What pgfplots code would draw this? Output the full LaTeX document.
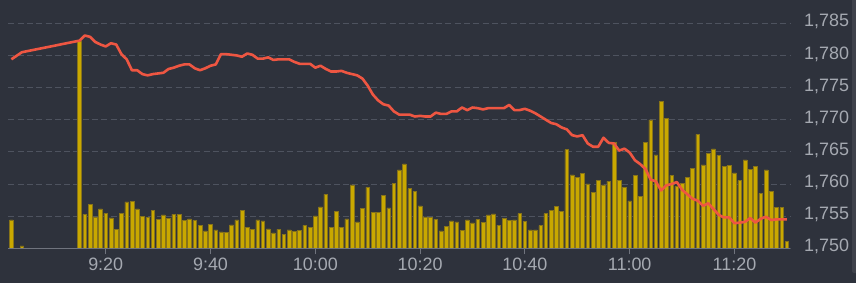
\documentclass[border=0pt]{standalone}
\usepackage{fontspec}
\setmainfont{Liberation Sans}
\usepackage{pgfplots}
\usepackage{pgfplotstable}
\pgfplotsset{compat=1.18}
\definecolor{bg}{RGB}{46,50,60}
\definecolor{gridc}{RGB}{78,83,95}
\definecolor{axisgray}{RGB}{112,116,126}
\definecolor{lbl}{RGB}{165,169,177}
\definecolor{barfill}{RGB}{201,168,0}
\definecolor{baredge}{RGB}{135,115,25}
\definecolor{pricec}{RGB}{238,86,66}

\pgfplotstableread{
t vol
2 85
4 7
15 620
16 102
17 131
18 94
19 118
20 105
21 91
22 57
23 105
24 139
25 140
26 118
27 95
28 93
29 114
30 87
31 100
32 90
33 102
34 102
35 84
36 88
37 83
38 69
39 52
40 72
41 55
42 49
43 48
44 70
45 85
46 114
47 63
48 57
49 85
50 82
51 58
52 46
53 57
54 42
55 55
56 50
57 54
58 69
59 63
60 97
61 124
62 162
63 63
64 111
65 63
66 88
67 190
68 79
69 119
70 183
71 108
72 108
73 159
74 121
75 195
76 235
77 253
78 179
79 170
80 127
81 94
82 92
83 87
84 52
85 65
86 82
87 79
88 54
89 85
90 76
91 86
92 77
93 100
94 103
95 69
96 89
97 83
98 85
99 104
100 80
101 55
102 55
103 68
104 104
105 113
106 125
107 110
108 296
109 220
110 212
111 225
112 193
113 167
114 204
115 190
116 201
117 318
118 204
119 182
120 142
121 219
122 155
123 318
124 385
125 280
126 440
127 390
128 219
129 186
130 195
131 213
132 240
133 342
134 250
135 284
136 298
137 279
138 245
139 248
140 226
141 203
142 265
143 237
144 246
145 165
146 235
147 170
148 122
149 122
150 20
}\voltable

\pgfplotstableread{
t price
2 1779.4
4 1780.5
15 1782.3
16 1783.1
17 1782.9
18 1782.1
19 1781.7
20 1781.4
21 1781.9
22 1781.7
23 1780.2
24 1779.4
25 1777.7
26 1777.7
27 1777.1
28 1776.9
29 1777.1
30 1777.2
31 1777.3
32 1777.9
33 1778.1
34 1778.4
35 1778.6
36 1778.6
37 1778.0
38 1777.7
39 1778.0
40 1778.4
41 1778.6
42 1780.2
43 1780.2
44 1780.1
45 1780.0
46 1779.8
47 1780.3
48 1780.1
49 1779.5
50 1779.5
51 1779.7
52 1779.3
53 1779.4
54 1779.4
55 1779.4
56 1779.0
57 1778.7
58 1778.7
59 1778.7
60 1778.1
61 1778.4
62 1777.9
63 1777.5
64 1777.5
65 1777.6
66 1777.3
67 1777.1
68 1776.9
69 1776.4
70 1775.3
71 1773.9
72 1773.0
73 1772.4
74 1772.2
75 1771.3
76 1770.8
77 1770.8
78 1770.8
79 1770.5
80 1770.6
81 1770.5
82 1770.5
83 1771.1
84 1770.9
85 1770.9
86 1771.3
87 1771.3
88 1771.9
89 1771.5
90 1771.9
91 1771.8
92 1771.6
93 1771.8
94 1771.8
95 1771.8
96 1771.8
97 1772.3
98 1771.5
99 1771.5
100 1771.7
101 1771.4
102 1771.0
103 1770.5
104 1770.0
105 1769.5
106 1769.3
107 1768.8
108 1768.5
109 1767.6
110 1767.4
111 1767.6
112 1766.3
113 1765.8
114 1765.8
115 1767.2
116 1766.4
117 1766.3
118 1765.2
119 1765.5
120 1764.9
121 1763.7
122 1763.1
123 1762.35
124 1760.7
125 1760.4
126 1759.0
127 1759.8
128 1760.0
129 1760.3
130 1759.1
131 1758.4
132 1757.7
133 1757.4
134 1756.6
135 1757.0
136 1756.1
137 1755.2
138 1754.8
139 1754.8
140 1753.9
141 1754.0
142 1754.1
143 1754.7
144 1754.0
145 1754.6
146 1754.9
147 1754.4
148 1754.5
149 1754.5
150 1754.5
}\pricetable

\pgfplotsset{
  base/.style={
    scale only axis,
    width=781.7bp, height=225bp,
    at={(8.3bp,34.7bp)}, anchor=south west,
    xmin=1.41, xmax=150.6,
    clip=false,
  },
}

\begin{document}
\begin{tikzpicture}[x=1bp,y=1bp]
\useasboundingbox (0,0) rectangle (856,283);
\fill[bg] (0,0) rectangle (856,283);
\fill[bg!92!white, rounded corners=2bp] (852,10) rectangle (858,290);

% grid + right labels
\begin{axis}[base,
  ymin=1750, ymax=1785,
  ytick={1750,1755,...,1785},
  yticklabel pos=right,
  ymajorgrids,
  grid style={gridc, line width=1bp, dash pattern=on 6bp off 3.3bp},
  xtick=\empty,
  axis line style={draw=none},
  major tick length=0pt,
  yticklabel style={anchor=west, inner sep=0pt, xshift=14bp, yshift=1.5bp, text=lbl,
     font=\fontsize{18}{21}\selectfont},
  /pgf/number format/assume math mode=true,
  /pgf/number format/1000 sep={,},
]
\end{axis}

% volume bars
\begin{axis}[base,
  ymin=0, ymax=675,
  hide axis,
]
\addplot[ybar, bar width=3.7bp, bar shift=0pt, fill=barfill, draw=baredge, line width=0.5bp]
  table[x=t, y=vol] {\voltable};
\end{axis}

% price line and x axis
\begin{axis}[base,
  ymin=1750, ymax=1785,
  axis x line*=bottom,
  axis y line=none,
  x axis line style={axisgray, line width=1.3bp, -},
  xtick={20,40,60,80,100,120,140},
  xticklabels={9:20,9:40,10:00,10:20,10:40,11:00,11:20},
  xtick align=outside,
  major tick length=6bp,
  xtick style={axisgray, line width=1bp},
  xticklabel style={anchor=north, inner sep=0pt, yshift=-3.5bp, text=lbl,
     font=\fontsize{18}{21}\selectfont},
  ytick=\empty,
]
\addplot[pricec, line width=2.6bp, line join=round, mark=none]
  table[x=t, y=price] {\pricetable};
\end{axis}
\end{tikzpicture}
\end{document}
